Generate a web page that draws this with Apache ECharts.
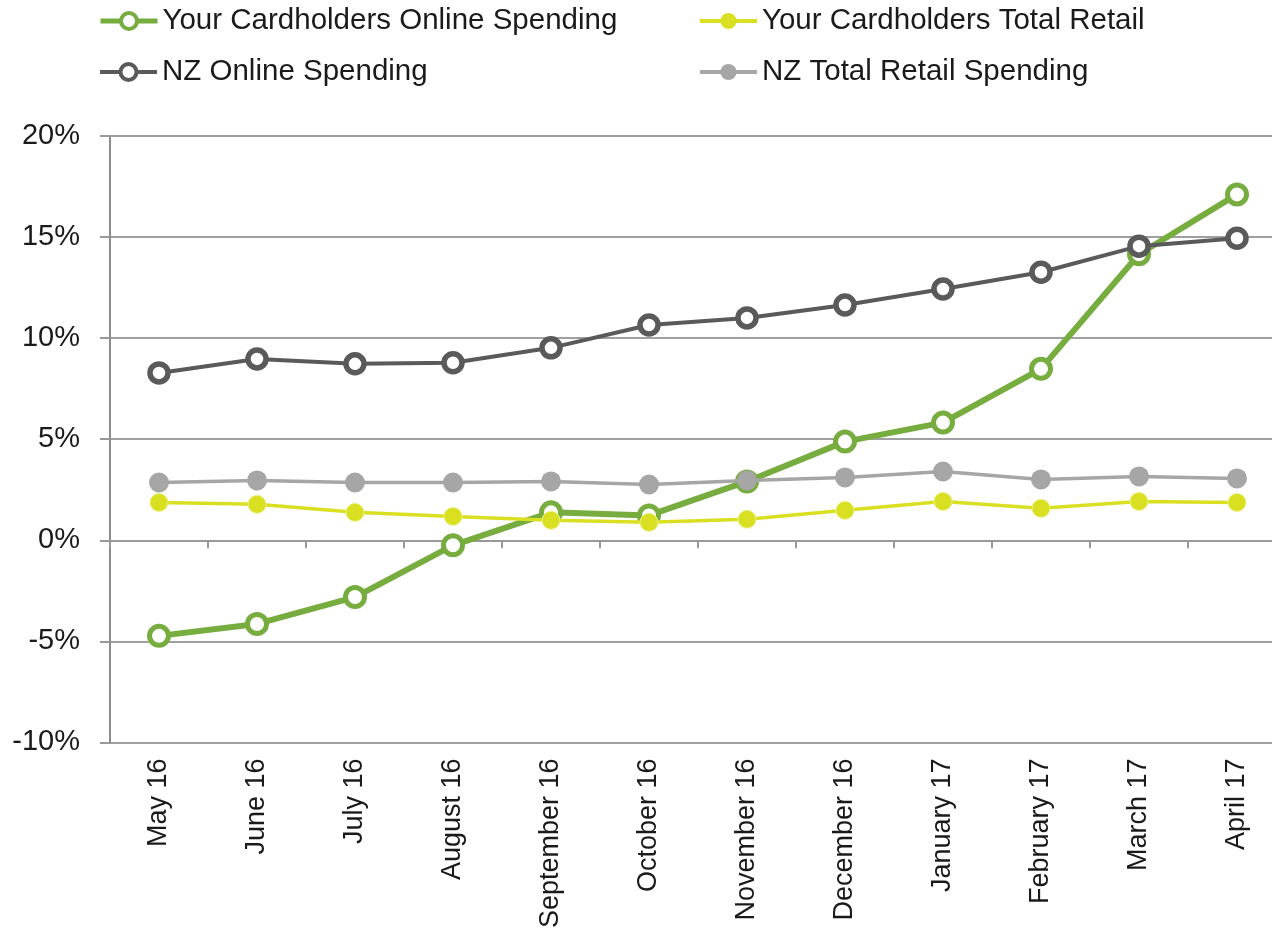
<!DOCTYPE html>
<html>
<head>
<meta charset="utf-8">
<script src="https://cdn.jsdelivr.net/npm/echarts@6/dist/echarts.min.js"></script>
<style>
html,body{margin:0;padding:0;background:#fff;overflow:hidden;width:1272px;height:931px;}
#chart{width:1290px;height:931px;}
</style>
</head>
<body>
<div id="chart"></div>
<script>
var months = ['May 16','June 16','July 16','August 16','September 16','October 16','November 16','December 16','January 17','February 17','March 17','April 17'];
var cardOnline = [-4.73, -4.14, -2.81, -0.25, 1.38, 1.23, 2.91, 4.88, 5.82, 8.48, 14.15, 17.11];
var cardRetail = [1.87, 1.78, 1.38, 1.18, 0.99, 0.89, 1.04, 1.48, 1.92, 1.58, 1.92, 1.87];
var nzOnline = [8.28, 8.97, 8.73, 8.78, 9.52, 10.65, 11.0, 11.64, 12.43, 13.26, 14.55, 14.94];
var nzRetail = [2.86, 2.96, 2.86, 2.86, 2.91, 2.76, 2.96, 3.11, 3.40, 3.01, 3.16, 3.06];
var yTicks = [-10, -5, 0, 5, 10, 15, 20];

var names = ['Your Cardholders Online Spending','Your Cardholders Total Retail','NZ Online Spending','NZ Total Retail Spending'];
var FONT = '"Liberation Sans", Arial, Helvetica, sans-serif';
var TXT = '#1a1a1a';
var C_GREEN = '#77ac3f', C_YEL = '#d9e021', C_DARK = '#5a5a5a', C_LIGHT = '#a6a6a6';

function leg(name, left, top, lw, bw){
  return {
    data:[name], left:left, top:top, padding:0, itemWidth:57, itemHeight:20,
    selectedMode:false,
    lineStyle:{width:lw},
    itemStyle:{borderWidth:bw},
    textStyle:{fontFamily:FONT, fontSize:29.5, color:TXT}
  };
}

var chart = echarts.init(document.getElementById('chart'), null, {renderer:'canvas'});
chart.setOption({
  animation:false,
  backgroundColor:'#ffffff',
  legend:[
    leg(names[0], 98, 6, 5, 4),
    leg(names[1], 698, 6, 4, 0),
    leg(names[2], 98, 57, 4, 4),
    leg(names[3], 698, 57, 4, 0)
  ],
  grid:{left:110, top:136, right:4, bottom:187, containLabel:false},
  xAxis:[{
    type:'category', data:months, position:'bottom', boundaryGap:true,
    axisLine:{show:false, onZero:false},
    axisTick:{show:false},
    axisLabel:{rotate:90, fontFamily:FONT, fontSize:27, color:TXT, margin:16, interval:0},
    splitLine:{show:false}
  },{
    type:'category', data:months, position:'bottom', boundaryGap:true,
    axisLine:{show:true, onZero:true, lineStyle:{color:'#999999', width:2}},
    axisTick:{show:true, interval:0, length:8, lineStyle:{color:'#999999', width:2}},
    axisLabel:{show:false, interval:0},
    splitLine:{show:false}
  }],
  yAxis:{
    type:'value', min:yTicks[0], max:yTicks[yTicks.length-1], interval:5,
    axisLine:{show:true, lineStyle:{color:'#8c8c8c', width:2}},
    axisTick:{show:true, length:10, lineStyle:{color:'#999999', width:2}},
    axisLabel:{formatter:'{value}%', fontFamily:FONT, fontSize:29, color:TXT, margin:30},
    splitLine:{show:true, lineStyle:{color:'#a0a0a0', width:2}}
  },
  series:[{
    name:names[0], type:'line', data:cardOnline, xAxisIndex:0,
    symbol:'circle', symbolSize:19, z:2,
    lineStyle:{color:C_GREEN, width:6},
    itemStyle:{color:'#ffffff', borderColor:C_GREEN, borderWidth:5}
  },{
    name:names[1], type:'line', data:cardRetail, xAxisIndex:0,
    symbol:'circle', symbolSize:18, z:4,
    lineStyle:{color:C_YEL, width:3.5},
    itemStyle:{color:C_YEL, borderColor:'#eef28a', borderWidth:1}
  },{
    name:names[2], type:'line', data:nzOnline, xAxisIndex:0,
    symbol:'circle', symbolSize:18, z:3,
    lineStyle:{color:C_DARK, width:4},
    itemStyle:{color:'#ffffff', borderColor:C_DARK, borderWidth:5.5}
  },{
    name:names[3], type:'line', data:nzRetail, xAxisIndex:0,
    symbol:'circle', symbolSize:20, z:4,
    lineStyle:{color:C_LIGHT, width:3.5},
    itemStyle:{color:C_LIGHT}
  }]
});
</script>
</body>
</html>
